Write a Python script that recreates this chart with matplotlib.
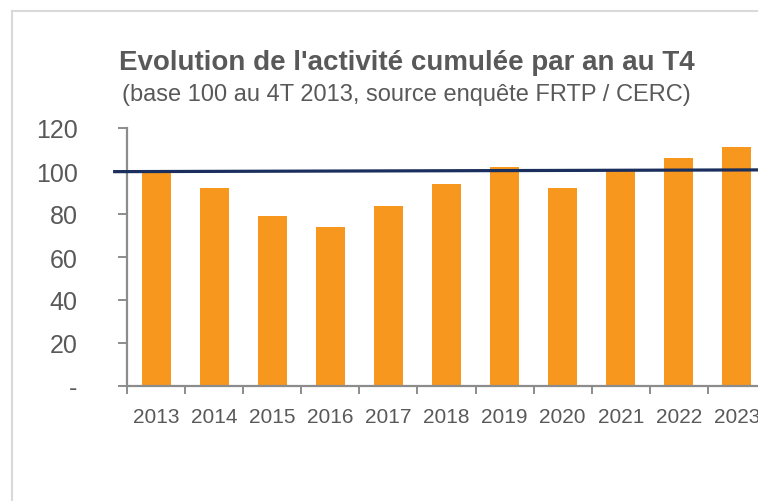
import numpy as np
import matplotlib
matplotlib.use("Agg")
import matplotlib.pyplot as plt
from matplotlib.lines import Line2D

# Data
years = ["2013", "2014", "2015", "2016", "2017", "2018",
         "2019", "2020", "2021", "2022", "2023"]
activity = [99.5, 92.1, 78.9, 74.0, 83.7, 94.0,
            101.7, 92.1, 100.9, 105.9, 111.2]
base_line = [99.7, 100.6]   # navy reference line, left end / right end
y_ticks = [0, 20, 40, 60, 80, 100, 120]
y_labels = ["-", "20", "40", "60", "80", "100", "120"]

title = "Evolution de l'activité cumulée par an au T4"
subtitle = "(base 100 au 4T 2013, source enquête FRTP / CERC)"

TEXT = "#595959"
AXIS = "#8c8c8c"
ORANGE = "#F7971E"
NAVY = "#1B2F5E"

plt.rcParams["font.family"] = ["Liberation Sans", "DejaVu Sans"]

W, H = 758, 502
fig = plt.figure(figsize=(W / 100, H / 100), dpi=100)

# axes runs past the right edge, like the cropped original
left, right, bottom, top = 127, 766, 387, 129
ax = fig.add_axes([left / W, 1 - bottom / H, (right - left) / W, (bottom - top) / H])

x = np.arange(len(years))
ax.bar(x, activity, width=0.5, color=ORANGE, zorder=2)

# reference line, starts a bit left of the y axis
ax.plot([-0.74, len(years) + 0.5], base_line, color=NAVY, lw=2.3,
        clip_on=False, zorder=3, solid_capstyle="butt")

ax.set_xlim(-0.5, len(years) - 0.5)
ax.set_ylim(0, 120)

for s in ["top", "right"]:
    ax.spines[s].set_visible(False)
for s in ["left", "bottom"]:
    ax.spines[s].set_color(AXIS)
    ax.spines[s].set_linewidth(1.6)

ax.set_yticks(y_ticks)
ax.set_yticklabels(y_labels)
ax.tick_params(axis="y", length=6.5, width=1.4, color=AXIS, pad=29,
               labelsize=18, labelcolor=TEXT)

# ticks between categories, labels centred under the bars
ax.set_xticks(np.arange(-0.5, len(years)))
ax.set_xticklabels([])
ax.tick_params(axis="x", which="major", length=6, width=1.4, color=AXIS)
ax.set_xticks(x, minor=True)
ax.set_xticklabels(years, minor=True)
ax.tick_params(axis="x", which="minor", length=0, pad=15,
               labelsize=15, labelcolor=TEXT)

fig.text(407 / W, 1 - 70 / H, title, ha="center", va="baseline",
         fontsize=20, fontweight="bold", color=TEXT)
fig.text(406 / W, 1 - 101 / H, subtitle, ha="center", va="baseline",
         fontsize=17, color=TEXT)

# light frame on the left and top
fig.add_artist(Line2D([12 / W, 12 / W], [0, 1 - 12 / H], color="#d9d9d9", lw=1.5))
fig.add_artist(Line2D([12 / W, 1], [1 - 12 / H, 1 - 12 / H], color="#d9d9d9", lw=1.5))

fig.savefig("out.png", dpi=100)
